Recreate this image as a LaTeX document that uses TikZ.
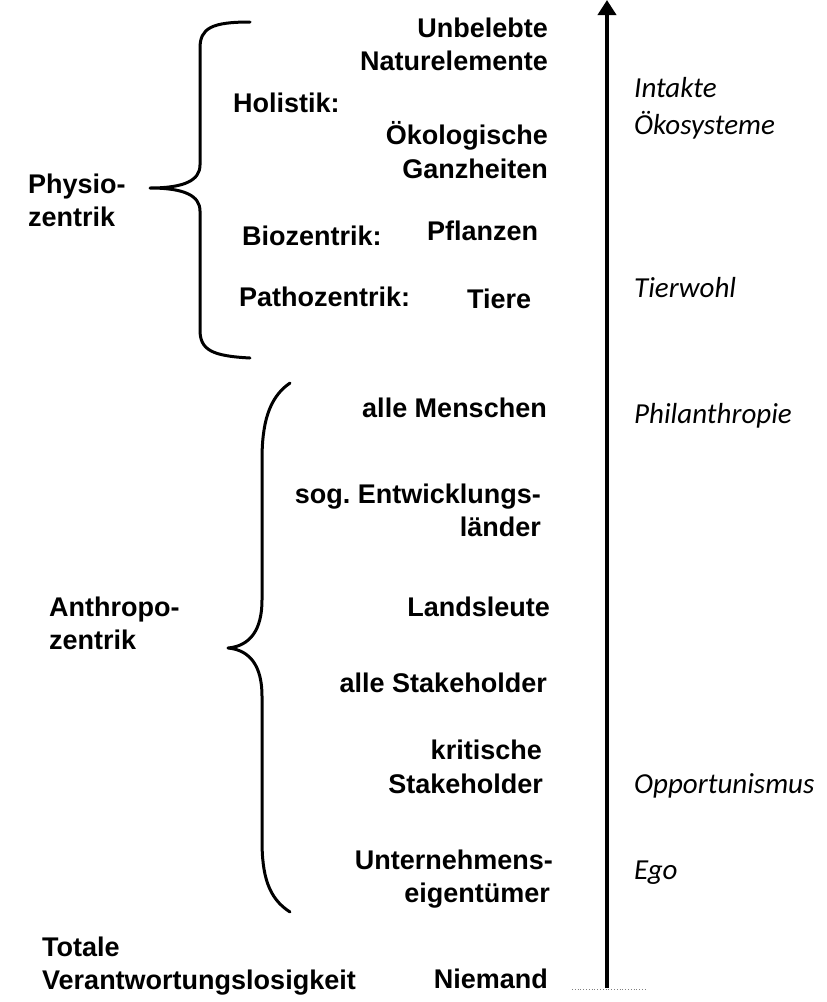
\documentclass[tikz,border=0pt]{standalone}
\usepackage{fontspec}
\setmainfont{Liberation Sans}
\newfontfamily\notefont{Carlito}
\usetikzlibrary{arrows.meta}
\frenchspacing

\tikzset{
  lbl/.style={inner sep=0pt, font=\bfseries\fontsize{27}{33}\selectfont},
  rt/.style={lbl, anchor=base east},
  lt/.style={lbl, anchor=base west},
  note/.style={inner sep=0pt, anchor=base west, font=\notefont\itshape\fontsize{29}{35}\selectfont},
  brace/.style={line width=3pt, line cap=round, line join=round},
  scalearrow/.style={line width=4.5pt, -{Triangle[length=15pt,width=18pt]}}
}

\begin{document}
\begin{tikzpicture}[x=1pt, y=-1pt]
\useasboundingbox (0,0) rectangle (827,1002);

% --- Physiozentrik group
\node[rt] (unb1) at (548,37) {Unbelebte};
\node[rt] (unb2) at (548,70) {Naturelemente};
\node[lt] (hol) at (233,112) {Holistik:};
\node[rt] (oek1) at (548,144) {Ökologische};
\node[rt] (oek2) at (548,178) {Ganzheiten};
\node[lt] (bio) at (242,245) {Biozentrik:};
\node[lt] (pfl) at (427,240) {Pflanzen};
\node[lt] (pat) at (239,306) {Pathozentrik:};
\node[lt] (tie) at (467,308) {Tiere};
\node[lt] (phy1) at (28,193) {Physio-};
\node[lt] (phy2) at (28,226) {zentrik};

% --- Anthropozentrik group
\node[rt] (men) at (547,417) {alle Menschen};
\node[rt] (ent1) at (541,503) {sog. Entwicklungs-};
\node[rt] (ent2) at (541,536) {länder};
\node[rt] (lan) at (550,616) {Landsleute};
\node[rt] (sta) at (547,692) {alle Stakeholder};
\node[rt] (kri1) at (542,759) {kritische};
\node[rt] (kri2) at (543,793) {Stakeholder};
\node[rt] (unt1) at (553,869) {Unternehmens-};
\node[rt] (unt2) at (550,902) {eigentümer};
\node[lt] (ant1) at (49,616) {Anthropo-};
\node[lt] (ant2) at (49,649) {zentrik};

% --- bottom row
\node[lt] (tot1) at (42,956) {Totale};
\node[lt] (tot2) at (42,989) {Verantwortungslosigkeit};
\node[rt] (nie) at (548,988) {Niemand};

% --- notes beside the scale
\node[note] (int1) at (634,97) {Intakte};
\node[note] (int2) at (634,134) {Ökosysteme};
\node[note] (tw) at (634,297) {Tierwohl};
\node[note] (phi) at (634,423) {Philanthropie};
\node[note] (opp) at (634,793) {Opportunismus};
\node[note] (ego) at (634,879) {Ego};

% --- braces
\draw[brace] (250,22) .. controls (212,22) and (200,28) .. (200,48)
  -- (200,165) .. controls (200,180) and (185,188) .. (150,188)
  .. controls (185,188) and (200,196) .. (200,211)
  -- (200,330) .. controls (200,350) and (212,356) .. (250,358);

\draw[brace] (290,383) .. controls (268,398) and (262,425) .. (262,460)
  -- (262,600) .. controls (262,630) and (250,646) .. (228,648)
  .. controls (250,650) and (262,666) .. (262,696)
  -- (262,840) .. controls (262,875) and (268,898) .. (290,912);

% --- vertical scale arrow
\coordinate (base) at (607,988);
\coordinate (top) at (607,0);
\draw[scalearrow] (base) -- (top);
\coordinate (bl) at (572,989);
\coordinate (br) at (645,989);
\draw[gray, line width=0.8pt, dotted] (bl) -- (br);
\end{tikzpicture}
\end{document}
